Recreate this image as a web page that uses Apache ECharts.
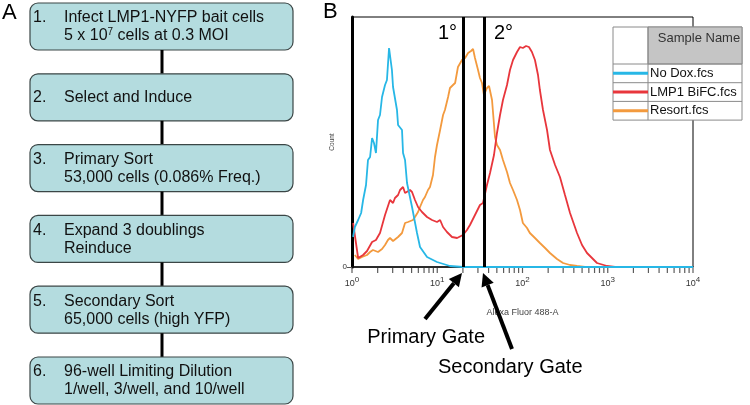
<!DOCTYPE html>
<html><head><meta charset="utf-8">
<script src="https://cdn.jsdelivr.net/npm/echarts@6/dist/echarts.min.js"></script>
<style>html,body{margin:0;padding:0;background:#fff}#c{width:750px;height:405px}</style>
</head><body><div id="c"></div>
<script>
// ---------- DATA ----------
const sampleNames = ['No Dox.fcs', 'LMP1 BiFC.fcs', 'Resort.fcs'];
const sampleColors = ['#27b7e6', '#e8363c', '#f39a3e'];

// Alexa Fluor 488-A intensity (x) and relative count (y, % of plot height)
const noDoxX = [1.03,1.08,1.18,1.28,1.35,1.46,1.54,1.63,1.72,1.81,1.91,2.02,2.13,2.25,2.44,2.57,2.72,2.94,3.03,3.37,3.47,3.86,3.97,4.19,4.42,5.06,5.79,6.28,7.59,9.93,14.1,20,10000];
const noDoxY = [12,16,18.8,21.6,26.8,32.8,42.8,44,51.6,49.6,45.6,58.8,60.8,68,72.8,74.8,87.6,78.8,72,62.8,56.8,54.8,45.6,42.8,33.6,24,13.6,8,4,2,0.4,0,0];

const lmp1X = [1.03,1.18,1.35,1.5,1.72,1.91,2.13,2.44,2.79,3.03,3.19,3.47,3.66,3.97,4.19,4.42,4.79,5.06,5.48,5.95,6.62,7.59,8.68,9.93,10.8,11.7,13.0,14.9,17.1,20.0,22.3,24.2,27.7,31.7,34.4,38.3,41.6,46.3,50.2,54.5,59.0,65.8,71.3,77.4,86.2,93.5,101,110,119,129,140,152,160,174,194,210,241,275,315,361,436,499,571,748,980,1217,10000];
const lmp1Y = [17.6,3.6,4.8,6.4,10,10.8,13.6,20.8,26.8,25.6,27.6,28.8,30.8,32,29.6,29.6,30.8,30,26.8,24,22,20,18.8,18,18.8,16,14,12,11.6,12.8,14.8,16.8,20.8,24.8,25.6,32.8,37.6,44.8,53.6,60.8,66.8,72.8,78.8,82.8,86,88,87.6,88.4,88,86,82.8,76.8,70.8,62.8,54.8,46.8,40.8,36,28.8,21.6,13.6,8.8,5.6,1.6,0.4,0,0];

const resortX = [1.08,1.18,1.31,1.5,1.63,1.76,2.02,2.25,2.44,2.64,2.79,3.03,3.19,3.47,3.86,4.19,4.54,4.79,5.19,5.48,5.95,6.28,6.8,7.18,7.79,8.22,8.91,9.41,9.93,10.8,11.7,12.3,13.4,14.1,15.3,16.2,17.5,19.5,21.2,23.0,24.9,26.3,27.7,30.1,31.7,33.5,35.3,38.3,40.5,43.9,47.6,50.2,54.5,59.0,65.8,71.3,77.4,86.2,93.5,101,113,122,140,160,184,210,254,299,361,436,541,10000];
const resortY = [4.8,3.2,4,4.8,6,6.8,6,7.2,8.8,10.8,11.6,10.4,9.6,12,13.6,17.6,18,17.6,18.8,20,22,24,26.8,28,30.8,32,36.8,44,48.8,54.8,60.8,62.8,68,71.6,72.8,73.6,80,82.8,83.6,85.6,86.4,87.2,83.6,78.8,75.6,73.6,68.8,71.6,72.4,66.8,52,48.8,46.8,42.8,38,33.6,30.8,26.8,22.8,17.6,15.6,13.6,11.6,9.6,7.6,5.6,3.2,1.6,0.8,0.4,0,0];

const gateValues = [20, 35.3];
const gateLabels = ['1°', '2°'];
const majorTicks = [1, 10, 100, 1000, 10000];
const minorTicks = [2,3,4,5,6,7,8,9,20,30,40,50,60,70,80,90,200,300,400,500,600,700,800,900,2000,3000,4000,5000,6000,7000,8000,9000];
const yTicks = [0];

const steps = [
  ['1.', 'Infect LMP1-NYFP bait cells', '5 x 10{s|7} cells at 0.3 MOI'],
  ['2.', 'Select and Induce'],
  ['3.', 'Primary Sort', '53,000 cells (0.086% Freq.)'],
  ['4.', 'Expand 3 doublings', 'Reinduce'],
  ['5.', 'Secondary Sort', '65,000 cells (high YFP)'],
  ['6.', '96-well Limiting Dilution', '1/well, 3/well, and 10/well']
];
const gateNames = ['Primary Gate', 'Secondary Gate'];

// ---------- BUILD ----------
// The x axis is a decade (log10) axis: intensities are mapped with log10 and labelled 10^n.
const FF = '"Liberation Sans", Arial, Helvetica, sans-serif';
const lg = v => Math.log10(v);
const zip = (xs, ys) => xs.map((x, i) => [lg(x), ys[i]]);
const seriesData = [zip(noDoxX, noDoxY), zip(lmp1X, lmp1Y), zip(resortX, resortY)];
const allTicksLog = majorTicks.concat(minorTicks).map(lg).sort((a, b) => a - b);

const graphic = [];
graphic.push({type:'text', left:2, top:2, style:{text:'A', font:'22px ' + FF, fill:'#000'}});
graphic.push({type:'text', left:323, top:1, style:{text:'B', font:'22px ' + FF, fill:'#000'}});

// Flowchart
const boxL = 30, boxW = 263, boxTop0 = 3, boxPitch = 70.8, boxH = 47;
steps.forEach((s, i) => {
  const top = boxTop0 + i * boxPitch;
  if (i > 0) {
    graphic.push({type:'line', shape:{x1:162, y1:top - boxPitch + boxH, x2:162, y2:top}, style:{stroke:'#000', lineWidth:3}});
  }
  graphic.push({type:'rect', shape:{x:boxL, y:top, width:boxW, height:boxH, r:8}, style:{fill:'#b4dcdf', stroke:'#3b4646', lineWidth:1.2}});
  const lines = s.slice(1);
  const ys = lines.length === 1 ? [top + boxH / 2] : [top + 15, top + 33];
  graphic.push({type:'text', x:33, y:ys[0], style:{text:s[0], font:'16px ' + FF, fill:'#111', verticalAlign:'middle'}});
  lines.forEach((t, j) => {
    graphic.push({type:'text', x:64, y:ys[j], style:{text:t, font:'16px ' + FF, fill:'#111', verticalAlign:'middle',
      rich:{s:{fontSize:10, fontFamily:FF, fill:'#111', padding:[0,0,8,0]}}}});
  });
});

// Legend table
const lgL = 613, lgC = 648, lgR = 742, lgT = 27, lgH = 37, rowH = 18.7;
const lgB = lgT + lgH + rowH * sampleNames.length;
graphic.push({type:'rect', z:100, shape:{x:lgL, y:lgT, width:lgR - lgL, height:lgB - lgT}, style:{fill:'#fff', stroke:'#8a8a8a', lineWidth:1}});
graphic.push({type:'rect', z:101, shape:{x:lgC, y:lgT, width:lgR - lgC, height:lgH}, style:{fill:'#c5c5c5', stroke:'#8a8a8a', lineWidth:1}});
graphic.push({type:'text', z:102, x:(lgC + lgR) / 2 + 4, y:lgT + 11, style:{text:'Sample Name', font:'13px ' + FF, fill:'#333', align:'center', verticalAlign:'middle'}});
graphic.push({type:'line', z:101, shape:{x1:lgC, y1:lgT, x2:lgC, y2:lgB}, style:{stroke:'#8a8a8a', lineWidth:1}});
sampleNames.forEach((n, i) => {
  const y0 = lgT + lgH + rowH * i;
  graphic.push({type:'line', z:101, shape:{x1:lgL, y1:y0, x2:lgR, y2:y0}, style:{stroke:'#8a8a8a', lineWidth:1}});
  graphic.push({type:'line', z:102, shape:{x1:lgL, y1:y0 + rowH / 2, x2:lgC, y2:y0 + rowH / 2}, style:{stroke:sampleColors[i], lineWidth:3}});
  graphic.push({type:'text', z:102, x:lgC + 2, y:y0 + rowH / 2, style:{text:n, font:'13px ' + FF, fill:'#111', verticalAlign:'middle'}});
});

// Gate labels
graphic.push({type:'text', x:457, y:33, style:{text:gateLabels[0], font:'20px ' + FF, fill:'#000', align:'right', verticalAlign:'middle'}});
graphic.push({type:'text', x:494, y:33, style:{text:gateLabels[1], font:'20px ' + FF, fill:'#000', align:'left', verticalAlign:'middle'}});

// Arrows
function arrow(x1, y1, x2, y2) {
  const dx = x2 - x1, dy = y2 - y1, L = Math.hypot(dx, dy), ux = dx / L, uy = dy / L;
  const hl = 13, hw = 6.5, bx = x2 - ux * hl, by = y2 - uy * hl, px = -uy, py = ux;
  graphic.push({type:'line', z:50, shape:{x1:x1, y1:y1, x2:bx, y2:by}, style:{stroke:'#000', lineWidth:4}});
  graphic.push({type:'polygon', z:50, shape:{points:[[x2, y2], [bx + px * hw, by + py * hw], [bx - px * hw, by - py * hw]]}, style:{fill:'#000'}});
}
arrow(425, 319, 462, 273);
arrow(512, 349, 483, 273);
graphic.push({type:'text', x:485, y:337, style:{text:gateNames[0], font:'20px ' + FF, fill:'#000', align:'right', verticalAlign:'middle'}});
graphic.push({type:'text', x:438, y:367, style:{text:gateNames[1], font:'20px ' + FF, fill:'#000', align:'left', verticalAlign:'middle'}});

const order = [2, 1, 0];
const series = order.map((k, idx) => ({
  name: sampleNames[k], type: 'line', data: seriesData[k], showSymbol: false, symbol: 'none',
  lineStyle: {color: sampleColors[k], width: 1.8}, itemStyle: {color: sampleColors[k]},
  z: 2 + idx, animation: false
}));
series[0].markLine = {
  silent: true, symbol: ['none', 'none'], label: {show: false},
  lineStyle: {color: '#000', width: 3, type: 'solid'},
  data: gateValues.map(v => ({xAxis: lg(v)}))
};
// Log-decade tick marks placed through the axis scale, hanging below the baseline
series.push({
  name: 'ticks', type: 'scatter', data: allTicksLog.map(v => [v, 0]), symbol: 'rect',
  symbolSize: [1.2, 5], symbolOffset: [0, 3.5], itemStyle: {color: '#333'},
  clip: false, silent: true, z: 1, animation: false
});

const isMajor = v => Math.abs(v - Math.round(v)) < 1e-9;

const chart = echarts.init(document.getElementById('c'), null, {renderer: 'canvas'});
chart.setOption({
  animation: false,
  backgroundColor: '#fff',
  textStyle: {fontFamily: FF},
  grid: {left: 352, top: 17, width: 341, height: 250, show: true, borderColor: '#000', borderWidth: 1, backgroundColor: 'transparent'},
  xAxis: {
    type: 'value', min: lg(majorTicks[0]), max: lg(majorTicks[majorTicks.length - 1]), interval: 1,
    axisLine: {show: true, onZero: false, lineStyle: {color: '#111', width: 1.5}},
    axisTick: {show: false},
    axisLabel: {margin: 9, color: '#333',
      formatter: v => isMajor(v) ? '{b|10}{s|' + Math.round(v) + '}' : '',
      rich: {b: {fontSize: 9, color: '#333', fontFamily: FF}, s: {fontSize: 8, color: '#333', fontFamily: FF, padding: [0, 0, 8, 0]}}},
    splitLine: {show: false}, minorTick: {show: false},
    name: 'Alexa Fluor 488-A', nameLocation: 'middle', nameGap: 41,
    nameTextStyle: {fontSize: 9, color: '#444', fontFamily: FF}
  },
  yAxis: {
    type: 'value', min: 0, max: 100,
    axisLine: {show: true, lineStyle: {color: '#000', width: 3}},
    axisTick: {show: true, length: 5, customValues: yTicks, lineStyle: {color: '#555'}},
    axisLabel: {customValues: yTicks, fontSize: 8, color: '#333', margin: 5},
    splitLine: {show: false},
    name: 'Count', nameLocation: 'middle', nameGap: 16,
    nameTextStyle: {fontSize: 6.5, color: '#444', fontFamily: FF}
  },
  series: series,
  graphic: graphic
});
</script>
</body></html>
